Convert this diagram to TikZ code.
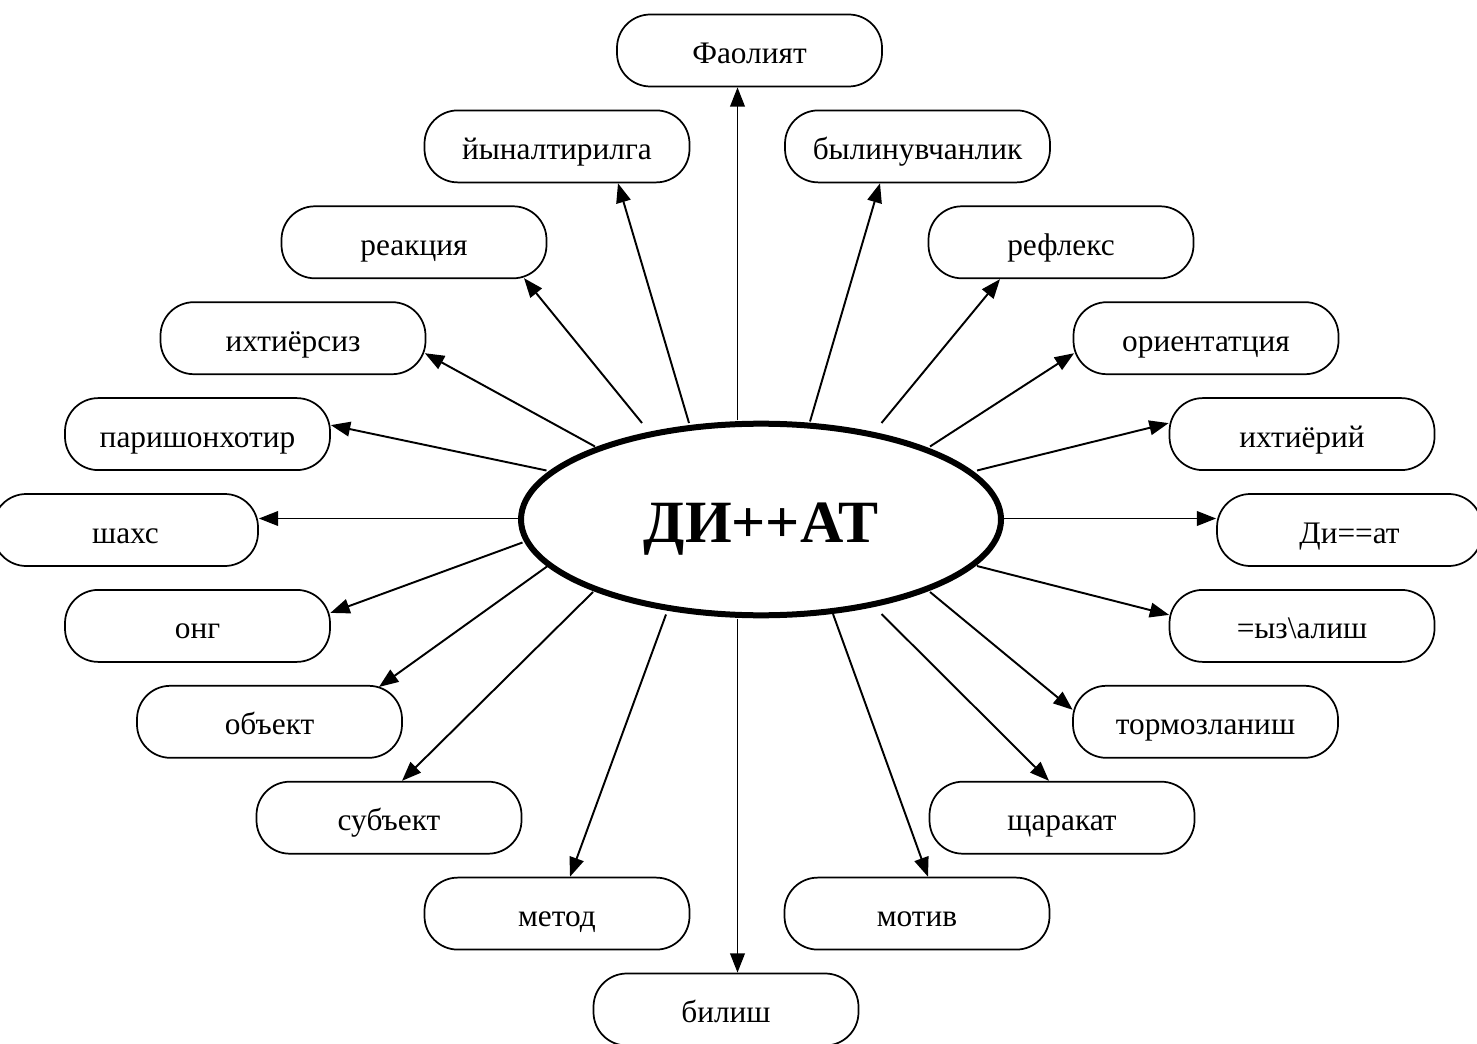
\documentclass[tikz,border=0pt]{standalone}
\usepackage{fontspec}
\setmainfont{Liberation Serif}
\usetikzlibrary{shapes.geometric,arrows.meta,calc}
\begin{document}
\begin{tikzpicture}[x=0.75pt,y=-0.75pt,
  box/.style={draw,line width=1.3pt,rounded corners=25pt,minimum width=198.75pt,
    minimum height=54pt,inner sep=0pt,text height=19.5pt,text depth=0pt,
    font=\fontsize{23.5}{28}\selectfont},
  arr/.style={line width=1.45pt,-{Triangle[length=14.5pt,width=11pt]}},
  hub/.style={ellipse,draw,line width=4.5pt,minimum width=360pt,minimum height=143.7pt,
    inner sep=0pt,text height=34.5pt,text depth=0pt,
    font=\fontsize{45}{54}\selectfont\bfseries}]
\useasboundingbox (0,0) rectangle (1477,1044);

\node[hub] (c) at (761,519.5) {ДИ++АТ};

\node[box] (fa) at (749.5,50.5) {Фаолият};
\node[box] (yn) at (557,146.4) {йыналтирилга};
\node[box] (by) at (917.5,146.4) {былинувчанлик};
\node[box] (re) at (414,242.3) {реакция};
\node[box] (rf) at (1061,242.3) {рефлекс};
\node[box] (ix) at (293,338.2) {ихтиёрсиз};
\node[box] (ori) at (1206,338.2) {ориентатция};
\node[box] (pa) at (197.5,434.1) {паришонхотир};
\node[box] (ih) at (1302,434.1) {ихтиёрий};
\node[box] (sh) at (125.5,530) {шахс};
\node[box] (di) at (1349.5,530) {Ди==ат};
\node[box] (on) at (197.5,625.9) {онг};
\node[box] (oz) at (1302,625.9) {=ыз\textbackslash алиш};
\node[box] (ob) at (269.5,721.8) {объект};
\node[box] (to) at (1205.5,721.8) {тормозланиш};
\node[box] (su) at (389,817.7) {субъект};
\node[box] (sc) at (1062,817.7) {щаракат};
\node[box] (me) at (557,913.6) {метод};
\node[box] (mo) at (917,913.6) {мотив};
\node[box] (bi) at (726,1009.5) {билиш};

\draw[arr] ($(c.center)+(-23.5,-99)$) -- ($(fa.south)+(-12,0)$);
\draw[arr] ($(c.center)+(-72,-96.5)$) -- ($(yn.south)+(61,0)$);
\draw[arr] ($(c.center)+(49,-98)$) -- ($(by.south)+(-37.5,0)$);
\draw[arr] ($(c.center)+(-119,-96.5)$) -- ($(re.south)+(110,-1)$);
\draw[arr] ($(c.center)+(120.5,-96.5)$) -- ($(rf.south)+(-61,0)$);
\draw[arr] ($(c.center)+(-166,-73)$) -- ($(ix.east)+(-1.5,15)$);
\draw[arr] ($(c.center)+(169,-73)$) -- ($(ori.west)+(1.5,15)$);
\draw[arr] ($(c.center)+(-214.5,-49)$) -- ($(pa.east)+(0,-9)$);
\draw[arr] ($(c.center)+(216,-49)$) -- ($(ih.west)+(0,-11)$);
\draw[arr] ($(c.center)+(-243,-1)$) -- ($(sh.east)+(0,-11.5)$);
\draw[arr] ($(c.center)+(243,-1)$) -- ($(di.west)+(0,-11.5)$);
\draw[arr] ($(c.center)+(-238.5,23)$) -- ($(on.east)+(-0.5,-13)$);
\draw[arr] ($(c.center)+(216,46.5)$) -- ($(oz.west)+(0.5,-11)$);
\draw[arr] ($(c.center)+(-214,47)$) -- ($(ob.north)+(109.5,2)$);
\draw[arr] ($(c.center)+(169,72.5)$) -- ($(to.west)+(0.5,-12)$);
\draw[arr] ($(c.center)+(-168,72.5)$) -- ($(su.north)+(13,0)$);
\draw[arr] ($(c.center)+(120.5,94.5)$) -- ($(sc.north)+(-13,0)$);
\draw[arr] ($(c.center)+(-95,95)$) -- ($(me.north)+(13,0)$);
\draw[arr] ($(c.center)+(72,94.5)$) -- ($(mo.north)+(11,0)$);
\draw[arr] ($(c.center)+(-23.5,99)$) -- ($(bi.north)+(11.5,0)$);
\end{tikzpicture}
\end{document}
